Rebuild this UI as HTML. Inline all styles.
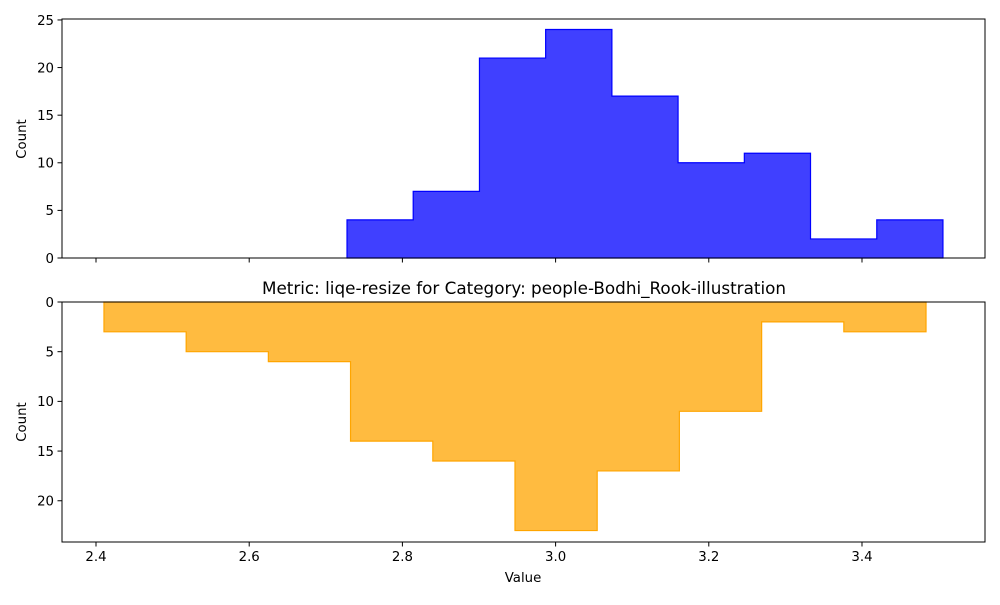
<!DOCTYPE html>
<html><head><meta charset="utf-8"><style>
body{margin:0;background:#fff;}
svg text{font-family:"DejaVu Sans","Liberation Sans",sans-serif;fill:#000;}
</style></head><body>
<svg id="chart" width="1000" height="600" xmlns="http://www.w3.org/2000/svg">
<rect width="1000" height="600" fill="#fff"/>
<g id="top"></g>
<g id="bot"></g>
<text x="524" y="294" font-size="16.8" text-anchor="middle">Metric: liqe-resize for Category: people-Bodhi_Rook-illustration</text>
<text x="523" y="582" font-size="13.3" text-anchor="middle">Value</text>
<text transform="translate(26,139) rotate(-90)" font-size="13.3" text-anchor="middle">Count</text>
<text transform="translate(26,422) rotate(-90)" font-size="13.3" text-anchor="middle">Count</text>
</svg>
<script>
const topEdges=[2.7277,2.8141,2.9006,2.9870,3.0735,3.1599,3.2464,3.3328,3.4193,3.5057];
const topCounts=[4,7,21,24,17,10,11,2,4];
const botEdges=[2.4104,2.5177,2.6250,2.7323,2.8397,2.9470,3.0543,3.1616,3.2690,3.3763,3.4836];
const botCounts=[3,5,6,14,16,23,17,11,2,3];
const xTicks=[2.4,2.6,2.8,3.0,3.2,3.4];
const xTickLabels=["2.4","2.6","2.8","3.0","3.2","3.4"];
const topYTicks=[0,5,10,15,20,25];
const botYTicks=[0,5,10,15,20];
const NS="http://www.w3.org/2000/svg";
const L=62,R=985;
const xs=v=>L+(v-2.3556)/(3.5606-2.3556)*(R-L);
function mk(p,t,a){const e=document.createElementNS(NS,t);for(const k in a)e.setAttribute(k,a[k]);p.appendChild(e);return e;}
function panel(g,T,B,ymax,inv,edges,counts,fill,stroke,yt,labels,nm){
  const ys=v=>inv?T+v/ymax*(B-T):B-v/ymax*(B-T);
  let d="M"+xs(edges[0])+","+ys(0);
  counts.forEach((c,i)=>{d+=" L"+xs(edges[i])+","+ys(c)+" L"+xs(edges[i+1])+","+ys(c);});
  d+=" L"+xs(edges[edges.length-1])+","+ys(0)+" Z";
  const p=mk(g,"path",{d:d,fill:fill,stroke:stroke,"stroke-width":1.2});
  
  
  const f=mk(g,"rect",{x:L,y:T,width:R-L,height:B-T,fill:"none",stroke:"#000","stroke-width":1});
  
  
  xTicks.forEach((v,i)=>{
    mk(g,"line",{x1:xs(v),x2:xs(v),y1:B,y2:B+4.5,stroke:"#000"});
    if(labels){const t=mk(g,"text",{x:xs(v),y:B+19,"font-size":13.3,"text-anchor":"middle"});t.textContent=xTickLabels[i];
      
      }
  });
  yt.forEach(v=>{
    mk(g,"line",{x1:L-4.5,x2:L,y1:ys(v),y2:ys(v),stroke:"#000"});
    const t=mk(g,"text",{x:L-8,y:ys(v)+4.8,"font-size":13.3,"text-anchor":"end"});t.textContent=v;
    
    
  });
}
panel(document.getElementById("top"),19,258,25.1,false,topEdges,topCounts,"#4040ff","#0000ff",topYTicks,false,"top");
panel(document.getElementById("bot"),302,542,24.15,true,botEdges,botCounts,"#ffbb40","#ffa500",botYTicks,true,"bottom");
</script>
</body></html>
